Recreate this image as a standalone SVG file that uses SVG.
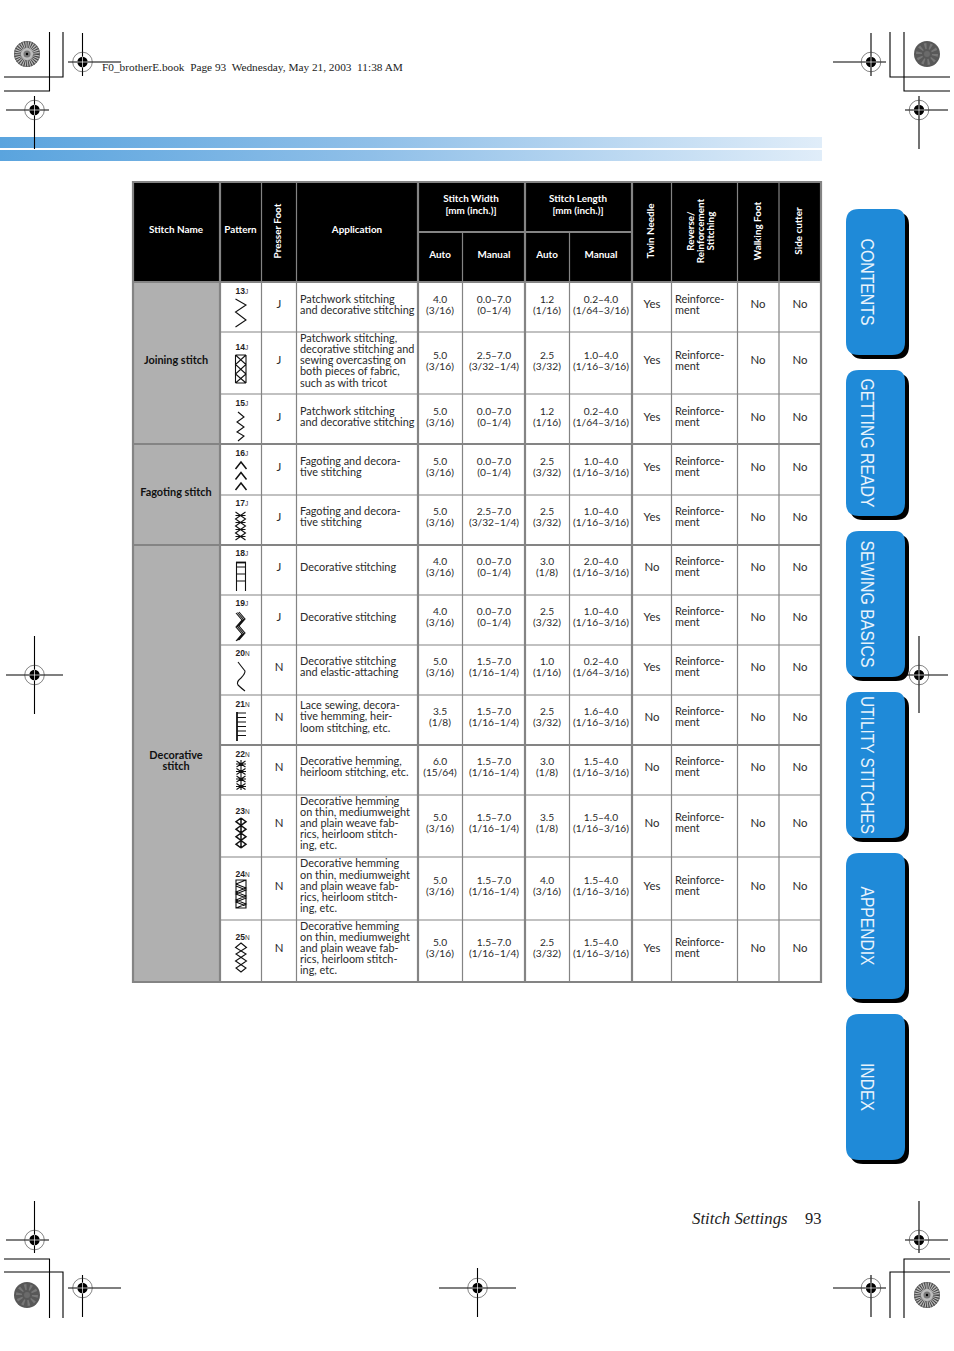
<svg xmlns="http://www.w3.org/2000/svg" width="954" height="1351" viewBox="0 0 954 1351">
<style>
text{font-family:"Lato","Noto Sans",sans-serif;fill:#2a2a2a;font-size:10.9px}
.c{text-anchor:middle;font-size:11.4px}
text.c[x="440"],text.c[x="494"],text.c[x="547"],text.c[x="601"]{font-size:10.2px}
.h{font-weight:700;font-size:9.9px;fill:#fff;text-anchor:middle}
.cb{font-weight:700;font-size:10.9px;fill:#111;text-anchor:middle}
.num{font-family:"Liberation Sans",sans-serif;font-weight:700;font-size:8.5px;fill:#222}
.ft{font-family:"Liberation Sans",sans-serif;font-size:6.5px;font-weight:400;fill:#333}
.tab{font-family:"Liberation Sans",sans-serif;font-size:17.5px;fill:#e8f3fc;text-anchor:middle}
.k{stroke:#000;fill:none;stroke-width:1.1}
.g{stroke:#848484;fill:none;stroke-width:1.2}
.gt{stroke:#848484;fill:none;stroke-width:2.2}
.s{fill:none;stroke:#111;stroke-width:1.1}
.sb{fill:none;stroke:#111;stroke-width:1.5}
.st{fill:none;stroke:#111;stroke-width:1.8}
</style>
<defs>
<linearGradient id="bar" x1="0" x2="1" y1="0" y2="0"><stop offset="0" stop-color="#5aa4de"/><stop offset="0.45" stop-color="#8fbfe8"/><stop offset="1" stop-color="#e0edf9"/></linearGradient>
<g id="reg">
<circle r="9.8" fill="none" stroke="#333" stroke-width="0.6"/>
<circle r="5.2" fill="#000"/>
<path d="M-5.500 0H5.500M0-5.500V5.500" stroke="#fff" stroke-width="0.7"/>
</g>
<g id="burstL"><circle r="13" fill="#bdbdbd"/><circle r="9.500" fill="none" stroke="#444" stroke-width="7" stroke-dasharray="1 1.100"/><circle r="3.500" fill="#777"/><circle r="1.200" fill="#000"/><circle r="12.600" fill="none" stroke="#666" stroke-width="0.8"/></g>
<g id="burstD"><circle r="13" fill="#585858"/><circle r="8" fill="none" stroke="#777" stroke-width="6" stroke-dasharray="2 3"/><circle r="3" fill="#6a6a6a"/></g>
<path id="tabs" d="M-10 0H-46Q-59 0-59 13V133Q-59 146-46 146H-13Q0 146 0 133V12Q0 0-10 0Z"/>
</defs>
<rect width="954" height="1351" fill="#fff"/>
<g id="page-bars"><rect x="0" y="137" width="822" height="11" fill="url(#bar)"/><rect x="0" y="150" width="822" height="11" fill="url(#bar)"/></g>
<g id="print-marks">
<path class="k" d="M4 91H49.500V32M4 77H63V32M890 32V77H950M904 32V91H950M4 1259H49.500V1318M4 1272H63V1318M950 1272H890V1318M950 1259H904V1318"/>
<path class="k" d="M68 62H121M82.500 33V76M6 110H49M34.500 96V149M833 62H886M871 33V76M905 110H948M919 96V149M6 1240H49M34.500 1201V1253M68 1288H121M82.500 1275V1317M833 1288H886M871 1275V1317M905 1240H948M919 1201V1253M439 1288H516M477.500 1268V1317M6 675H63M34.500 636V714M881 675H948M919 636V713"/>
<use href="#reg" x="82.500" y="62"/><use href="#reg" x="34.500" y="110"/><use href="#reg" x="871" y="62"/><use href="#reg" x="919" y="110"/>
<use href="#reg" x="34.500" y="1240"/><use href="#reg" x="82.500" y="1288"/><use href="#reg" x="871" y="1288"/><use href="#reg" x="919" y="1240"/>
<use href="#reg" x="477.500" y="1288"/><use href="#reg" x="34.500" y="675"/><use href="#reg" x="919" y="675"/>
<use href="#burstL" x="27" y="54"/><use href="#burstD" x="927" y="54"/><use href="#burstD" x="27" y="1295"/><use href="#burstL" x="927" y="1295"/>
</g>
<text x="102" y="71" xml:space="preserve" style="font-family:'Liberation Serif',serif;font-size:11.3px;fill:#222">F0_brotherE.book  Page 93  Wednesday, May 21, 2003  11:38 AM</text>
<g id="table">
<rect x="133" y="182" width="688" height="100" fill="#000"/>
<rect x="133" y="282" width="87" height="162" fill="#b0b0b0"/>
<rect x="133" y="444" width="87" height="101" fill="#b0b0b0"/>
<rect x="133" y="545" width="87" height="437" fill="#b0b0b0"/>
<path class="g" d="M220 282V982M261.500 182V982M296.500 182V982M462.500 232V982M569.500 232V982M671.500 182V982M737.500 182V982M779 182V982"/>
<path class="g" d="M220 332H821M220 394H821M220 495H821M220 595H821M220 645H821M220 695H821M220 795H821M220 857H821M220 920H821"/>
<path class="gt" d="M133 182H821V982H133ZM220 182V982M418 182V982M525 182V982M632 182V982M133 282H821M133 444H821M133 545H821M220 745H821M418 232H632"/>
</g>
<g id="header">
<text class="h" x="176" y="233">Stitch Name</text>
<text class="h" x="240.500" y="233">Pattern</text>
<text class="h" transform="translate(281,231) rotate(-90)">Presser Foot</text>
<text class="h" x="357" y="233">Application</text>
<text class="h" x="471" y="202">Stitch Width</text><text class="h" x="471" y="214">[mm (inch.)]</text>
<text class="h" x="440" y="258">Auto</text><text class="h" x="494" y="258">Manual</text>
<text class="h" x="578" y="202">Stitch Length</text><text class="h" x="578" y="214">[mm (inch.)]</text>
<text class="h" x="547" y="258">Auto</text><text class="h" x="601" y="258">Manual</text>
<text class="h" transform="translate(654,231) rotate(-90)">Twin Needle</text>
<text class="h" transform="translate(694,231) rotate(-90)">Reverse/</text>
<text class="h" transform="translate(704,231) rotate(-90)">Reinforcement</text>
<text class="h" transform="translate(713.500,231) rotate(-90)">Stitching</text>
<text class="h" transform="translate(761,231) rotate(-90)">Walking Foot</text>
<text class="h" transform="translate(802,231) rotate(-90)">Side cutter</text>
</g>
<g id="groups">
<text class="cb" x="176" y="364">Joining stitch</text>
<text class="cb" x="176" y="496">Fagoting stitch</text>
<text class="cb" x="176" y="759">Decorative</text><text class="cb" x="176" y="770">stitch</text>
</g>
<g id="row13"><text class="num" x="235.500" y="294">13<tspan class="ft">J</tspan></text><path class="s" d="M235.500 299L246 305L235.500 312L246 320L235.500 327"/>
<text class="c" x="279" y="308">J</text><text x="300" y="303">Patchwork stitching</text><text x="300" y="314">and decorative stitching</text>
<text class="c" x="440" y="303">4.0</text><text class="c" x="440" y="314">(3/16)</text><text class="c" x="494" y="303">0.0–7.0</text><text class="c" x="494" y="314">(0–1/4)</text>
<text class="c" x="547" y="303">1.2</text><text class="c" x="547" y="314">(1/16)</text><text class="c" x="601" y="303">0.2–4.0</text><text class="c" x="601" y="314">(1/64–3/16)</text>
<text class="c" x="652" y="308">Yes</text><text x="675" y="303">Reinforce-</text><text x="675" y="314">ment</text><text class="c" x="758" y="308">No</text><text class="c" x="800" y="308">No</text></g>
<g id="row14"><text class="num" x="235.500" y="350">14<tspan class="ft">J</tspan></text><path class="s" d="M235.500 355V383M246 355V383M235.500 355H246M235.500 383H246M235.500 355L246 364.500L235.500 374L246 383M246 355L235.500 364.500L246 374L235.500 383"/>
<text class="c" x="279" y="364">J</text><text x="300" y="342">Patchwork stitching,</text><text x="300" y="353">decorative stitching and</text><text x="300" y="364">sewing overcasting on</text><text x="300" y="375">both pieces of fabric,</text><text x="300" y="387">such as with tricot</text>
<text class="c" x="440" y="359">5.0</text><text class="c" x="440" y="370">(3/16)</text><text class="c" x="494" y="359">2.5–7.0</text><text class="c" x="494" y="370">(3/32–1/4)</text>
<text class="c" x="547" y="359">2.5</text><text class="c" x="547" y="370">(3/32)</text><text class="c" x="601" y="359">1.0–4.0</text><text class="c" x="601" y="370">(1/16–3/16)</text>
<text class="c" x="652" y="364">Yes</text><text x="675" y="359">Reinforce-</text><text x="675" y="370">ment</text><text class="c" x="758" y="364">No</text><text class="c" x="800" y="364">No</text></g>
<g id="row15"><text class="num" x="235.500" y="406">15<tspan class="ft">J</tspan></text><path class="s" d="M238 412L244 417L237 422L244 427L237 432L244 436L238 441"/>
<text class="c" x="279" y="421">J</text><text x="300" y="415">Patchwork stitching</text><text x="300" y="426">and decorative stitching</text>
<text class="c" x="440" y="415">5.0</text><text class="c" x="440" y="426">(3/16)</text><text class="c" x="494" y="415">0.0–7.0</text><text class="c" x="494" y="426">(0–1/4)</text>
<text class="c" x="547" y="415">1.2</text><text class="c" x="547" y="426">(1/16)</text><text class="c" x="601" y="415">0.2–4.0</text><text class="c" x="601" y="426">(1/64–3/16)</text>
<text class="c" x="652" y="421">Yes</text><text x="675" y="415">Reinforce-</text><text x="675" y="426">ment</text><text class="c" x="758" y="421">No</text><text class="c" x="800" y="421">No</text></g>
<g id="row16"><text class="num" x="235.500" y="456">16<tspan class="ft">J</tspan></text><path class="sb" d="M235.500 469L241 462L246.500 469M235.500 479.500L241 472.500L246.500 479.500M235.500 490L241 483L246.500 490"/>
<text class="c" x="279" y="471">J</text><text x="300" y="465">Fagoting and decora-</text><text x="300" y="476">tive stitching</text>
<text class="c" x="440" y="465">5.0</text><text class="c" x="440" y="476">(3/16)</text><text class="c" x="494" y="465">0.0–7.0</text><text class="c" x="494" y="476">(0–1/4)</text>
<text class="c" x="547" y="465">2.5</text><text class="c" x="547" y="476">(3/32)</text><text class="c" x="601" y="465">1.0–4.0</text><text class="c" x="601" y="476">(1/16–3/16)</text>
<text class="c" x="652" y="471">Yes</text><text x="675" y="465">Reinforce-</text><text x="675" y="476">ment</text><text class="c" x="758" y="471">No</text><text class="c" x="800" y="471">No</text></g>
<g id="row17"><text class="num" x="235.500" y="506">17<tspan class="ft">J</tspan></text><path class="s" d="M235.500 512L245.500 519L235.500 526L245.500 533L235.500 540M245.500 512L235.500 519L245.500 526L235.500 533L245.500 540M235.500 515.500L245.500 515.500M235.500 522.500H245.500M235.500 529.500H245.500M235.500 536.500H245.500"/>
<text class="c" x="279" y="521">J</text><text x="300" y="515">Fagoting and decora-</text><text x="300" y="526">tive stitching</text>
<text class="c" x="440" y="515">5.0</text><text class="c" x="440" y="526">(3/16)</text><text class="c" x="494" y="515">2.5–7.0</text><text class="c" x="494" y="526">(3/32–1/4)</text>
<text class="c" x="547" y="515">2.5</text><text class="c" x="547" y="526">(3/32)</text><text class="c" x="601" y="515">1.0–4.0</text><text class="c" x="601" y="526">(1/16–3/16)</text>
<text class="c" x="652" y="521">Yes</text><text x="675" y="515">Reinforce-</text><text x="675" y="526">ment</text><text class="c" x="758" y="521">No</text><text class="c" x="800" y="521">No</text></g>
<g id="row18"><text class="num" x="235.500" y="556">18<tspan class="ft">J</tspan></text><path class="s" d="M236.500 562V591M245.500 562V591M236.500 567H245.500M236.500 574H245.500M236.500 581H245.500"/><path class="st" d="M236 562.500H246"/>
<text class="c" x="279" y="571">J</text><text x="300" y="571">Decorative stitching</text>
<text class="c" x="440" y="565">4.0</text><text class="c" x="440" y="576">(3/16)</text><text class="c" x="494" y="565">0.0–7.0</text><text class="c" x="494" y="576">(0–1/4)</text>
<text class="c" x="547" y="565">3.0</text><text class="c" x="547" y="576">(1/8)</text><text class="c" x="601" y="565">2.0–4.0</text><text class="c" x="601" y="576">(1/16–3/16)</text>
<text class="c" x="652" y="571">No</text><text x="675" y="565">Reinforce-</text><text x="675" y="576">ment</text><text class="c" x="758" y="571">No</text><text class="c" x="800" y="571">No</text></g>
<g id="row19"><text class="num" x="235.500" y="606">19<tspan class="ft">J</tspan></text><path class="s" d="M239 612L245 619L239 626L245 633L239 640M237.500 612.500L243.500 619.500L237.500 626.500L243.500 633.500L237.500 640.500M236 613L242 620L236 627L242 634L236 641"/>
<text class="c" x="279" y="621">J</text><text x="300" y="621">Decorative stitching</text>
<text class="c" x="440" y="615">4.0</text><text class="c" x="440" y="626">(3/16)</text><text class="c" x="494" y="615">0.0–7.0</text><text class="c" x="494" y="626">(0–1/4)</text>
<text class="c" x="547" y="615">2.5</text><text class="c" x="547" y="626">(3/32)</text><text class="c" x="601" y="615">1.0–4.0</text><text class="c" x="601" y="626">(1/16–3/16)</text>
<text class="c" x="652" y="621">Yes</text><text x="675" y="615">Reinforce-</text><text x="675" y="626">ment</text><text class="c" x="758" y="621">No</text><text class="c" x="800" y="621">No</text></g>
<g id="row20"><text class="num" x="235.500" y="656">20<tspan class="ft">N</tspan></text><path class="s" d="M238 662Q241 666 245 671Q245 674 241 678Q236 682 238 685Q241 688 245 691"/>
<text class="c" x="279" y="671">N</text><text x="300" y="665">Decorative stitching</text><text x="300" y="676">and elastic-attaching</text>
<text class="c" x="440" y="665">5.0</text><text class="c" x="440" y="676">(3/16)</text><text class="c" x="494" y="665">1.5–7.0</text><text class="c" x="494" y="676">(1/16–1/4)</text>
<text class="c" x="547" y="665">1.0</text><text class="c" x="547" y="676">(1/16)</text><text class="c" x="601" y="665">0.2–4.0</text><text class="c" x="601" y="676">(1/64–3/16)</text>
<text class="c" x="652" y="671">Yes</text><text x="675" y="665">Reinforce-</text><text x="675" y="676">ment</text><text class="c" x="758" y="671">No</text><text class="c" x="800" y="671">No</text></g>
<g id="row21"><text class="num" x="235.500" y="707">21<tspan class="ft">N</tspan></text><path class="s" d="M237 713H246M237 717.500H246M237 722H246M237 726.500H246M237 731H246M237 735.500H246"/><path class="st" d="M237 712V741"/>
<text class="c" x="279" y="721">N</text><text x="300" y="709">Lace sewing, decora-</text><text x="300" y="720">tive hemming, heir-</text><text x="300" y="732">loom stitching, etc.</text>
<text class="c" x="440" y="715">3.5</text><text class="c" x="440" y="726">(1/8)</text><text class="c" x="494" y="715">1.5–7.0</text><text class="c" x="494" y="726">(1/16–1/4)</text>
<text class="c" x="547" y="715">2.5</text><text class="c" x="547" y="726">(3/32)</text><text class="c" x="601" y="715">1.6–4.0</text><text class="c" x="601" y="726">(1/16–3/16)</text>
<text class="c" x="652" y="721">No</text><text x="675" y="715">Reinforce-</text><text x="675" y="726">ment</text><text class="c" x="758" y="721">No</text><text class="c" x="800" y="721">No</text></g>
<g id="row22"><text class="num" x="235.500" y="757">22<tspan class="ft">N</tspan></text><path class="s" d="M241 760V790M236.500 761L245.500 767M245.500 761L236.500 767M236 764H246M236.500 768.500L245.500 774.500M245.500 768.500L236.500 774.500M236 771.500H246M236.500 776L245.500 782M245.500 776L236.500 782M236 779H246M236.500 783.500L245.500 789.500M245.500 783.500L236.500 789.500M236 786.500H246"/>
<text class="c" x="279" y="771">N</text><text x="300" y="765">Decorative hemming,</text><text x="300" y="776">heirloom stitching, etc.</text>
<text class="c" x="440" y="765">6.0</text><text class="c" x="440" y="776">(15/64)</text><text class="c" x="494" y="765">1.5–7.0</text><text class="c" x="494" y="776">(1/16–1/4)</text>
<text class="c" x="547" y="765">3.0</text><text class="c" x="547" y="776">(1/8)</text><text class="c" x="601" y="765">1.5–4.0</text><text class="c" x="601" y="776">(1/16–3/16)</text>
<text class="c" x="652" y="771">No</text><text x="675" y="765">Reinforce-</text><text x="675" y="776">ment</text><text class="c" x="758" y="771">No</text><text class="c" x="800" y="771">No</text></g>
<g id="row23"><text class="num" x="235.500" y="814">23<tspan class="ft">N</tspan></text><path class="sb" d="M241 818L246 821.700L241 825.500L246 829.200L241 833L246 836.700L241 840.500L246 844.200L241 848M241 818L236 821.700L241 825.500L236 829.200L241 833L236 836.700L241 840.500L236 844.200L241 848M241 818V848"/>
<text class="c" x="279" y="827">N</text><text x="300" y="805">Decorative hemming</text><text x="300" y="816">on thin, mediumweight</text><text x="300" y="827">and plain weave fab-</text><text x="300" y="838">rics, heirloom stitch-</text><text x="300" y="849">ing, etc.</text>
<text class="c" x="440" y="821">5.0</text><text class="c" x="440" y="832">(3/16)</text><text class="c" x="494" y="821">1.5–7.0</text><text class="c" x="494" y="832">(1/16–1/4)</text>
<text class="c" x="547" y="821">3.5</text><text class="c" x="547" y="832">(1/8)</text><text class="c" x="601" y="821">1.5–4.0</text><text class="c" x="601" y="832">(1/16–3/16)</text>
<text class="c" x="652" y="827">No</text><text x="675" y="821">Reinforce-</text><text x="675" y="832">ment</text><text class="c" x="758" y="827">No</text><text class="c" x="800" y="827">No</text></g>
<g id="row24"><text class="num" x="235.500" y="877">24<tspan class="ft">N</tspan></text><path class="s" d="M236 880H246V908H236ZM236 884L246 888L236 892L246 896L236 900L246 904L236 908M246 880L236 884M236 886L246 890L236 894L246 898L236 902L246 906"/>
<text class="c" x="279" y="890">N</text><text x="300" y="867">Decorative hemming</text><text x="300" y="879">on thin, mediumweight</text><text x="300" y="890">and plain weave fab-</text><text x="300" y="901">rics, heirloom stitch-</text><text x="300" y="912">ing, etc.</text>
<text class="c" x="440" y="884">5.0</text><text class="c" x="440" y="895">(3/16)</text><text class="c" x="494" y="884">1.5–7.0</text><text class="c" x="494" y="895">(1/16–1/4)</text>
<text class="c" x="547" y="884">4.0</text><text class="c" x="547" y="895">(3/16)</text><text class="c" x="601" y="884">1.5–4.0</text><text class="c" x="601" y="895">(1/16–3/16)</text>
<text class="c" x="652" y="890">Yes</text><text x="675" y="884">Reinforce-</text><text x="675" y="895">ment</text><text class="c" x="758" y="890">No</text><text class="c" x="800" y="890">No</text></g>
<g id="row25"><text class="num" x="235.500" y="940">25<tspan class="ft">N</tspan></text><path class="s" d="M241 943L246.500 947.500L236 954L246.500 961L236 968L241 972L246 968L235.500 961L246 954L235.500 947.500Z"/>
<text class="c" x="279" y="952">N</text><text x="300" y="930">Decorative hemming</text><text x="300" y="941">on thin, mediumweight</text><text x="300" y="952">and plain weave fab-</text><text x="300" y="963">rics, heirloom stitch-</text><text x="300" y="974">ing, etc.</text>
<text class="c" x="440" y="946">5.0</text><text class="c" x="440" y="957">(3/16)</text><text class="c" x="494" y="946">1.5–7.0</text><text class="c" x="494" y="957">(1/16–1/4)</text>
<text class="c" x="547" y="946">2.5</text><text class="c" x="547" y="957">(3/32)</text><text class="c" x="601" y="946">1.5–4.0</text><text class="c" x="601" y="957">(1/16–3/16)</text>
<text class="c" x="652" y="952">Yes</text><text x="675" y="946">Reinforce-</text><text x="675" y="957">ment</text><text class="c" x="758" y="952">No</text><text class="c" x="800" y="952">No</text></g>
<g id="tab-contents"><use href="#tabs" x="909" y="213" fill="#000"/><use href="#tabs" x="905" y="209" fill="#1f8ad8"/><text class="tab" textLength="87" lengthAdjust="spacingAndGlyphs" transform="translate(861,282) rotate(90)">CONTENTS</text></g>
<g id="tab-getting-ready"><use href="#tabs" x="909" y="374" fill="#000"/><use href="#tabs" x="905" y="370" fill="#1f8ad8"/><text class="tab" textLength="129" lengthAdjust="spacingAndGlyphs" transform="translate(861,443) rotate(90)">GETTING READY</text></g>
<g id="tab-sewing-basics"><use href="#tabs" x="909" y="535" fill="#000"/><use href="#tabs" x="905" y="531" fill="#1f8ad8"/><text class="tab" textLength="127" lengthAdjust="spacingAndGlyphs" transform="translate(861,604) rotate(90)">SEWING BASICS</text></g>
<g id="tab-utility"><use href="#tabs" x="909" y="696" fill="#000"/><use href="#tabs" x="905" y="692" fill="#1f8ad8"/><text class="tab" textLength="138" lengthAdjust="spacingAndGlyphs" transform="translate(861,765) rotate(90)">UTILITY STITCHES</text></g>
<g id="tab-appendix"><use href="#tabs" x="909" y="857" fill="#000"/><use href="#tabs" x="905" y="853" fill="#1f8ad8"/><text class="tab" textLength="79" lengthAdjust="spacingAndGlyphs" transform="translate(861,926) rotate(90)">APPENDIX</text></g>
<g id="tab-index"><use href="#tabs" x="909" y="1018" fill="#000"/><use href="#tabs" x="905" y="1014" fill="#1f8ad8"/><text class="tab" textLength="48" lengthAdjust="spacingAndGlyphs" transform="translate(861,1087) rotate(90)">INDEX</text></g>
<g id="footer"><text x="692" y="1224" style="font-family:'Liberation Serif',serif;font-style:italic;font-size:16.800px;fill:#222">Stitch Settings</text><text x="805" y="1224" style="font-family:'Liberation Serif',serif;font-size:16.500px;fill:#222">93</text></g>
</svg>
